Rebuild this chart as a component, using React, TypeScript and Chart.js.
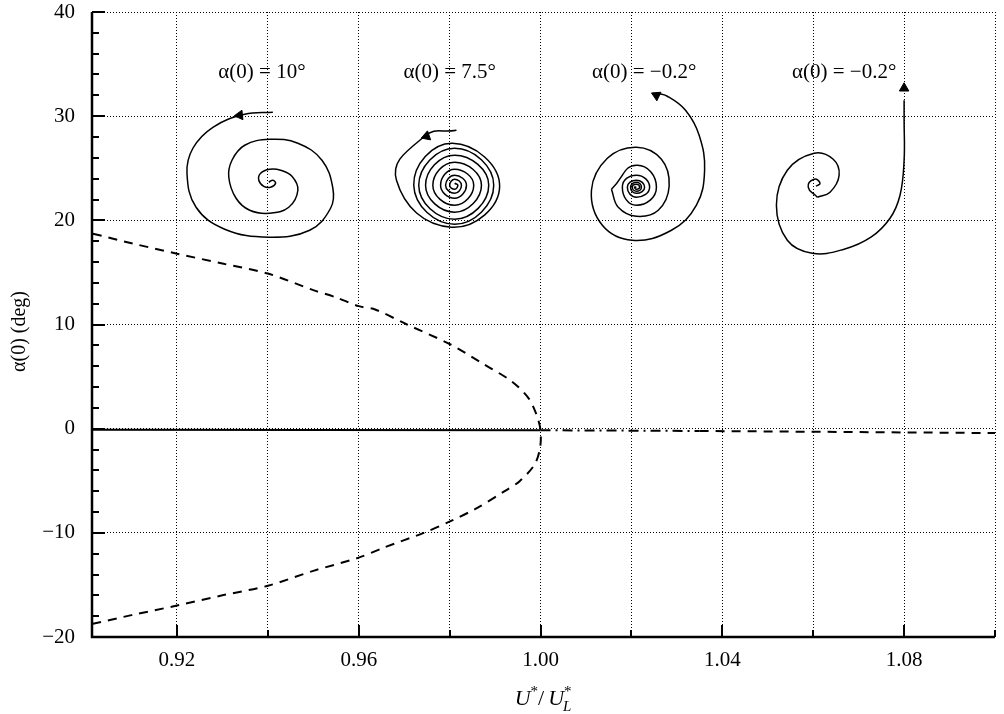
import React, { useEffect, useRef } from 'react';
import { Chart, registerables } from 'chart.js';

Chart.register(...registerables);

const FONT = "'Liberation Serif', 'Times New Roman', serif";

// axis ranges
const X_MIN = 0.9013;
const X_MAX = 1.1;
const Y_MIN = -20;
const Y_MAX = 40;

// tick values
const xGridValues = [0.92, 0.94, 0.96, 0.98, 1.0, 1.02, 1.04, 1.06, 1.08, 1.1];
const xLabelValues = [0.92, 0.96, 1.0, 1.04, 1.08];
const yGridValues = [-20, -10, 0, 10, 20, 30, 40];
const yTickMarks = [-20, -18, -16, -14, -12, -10, -8, -6, -4, -2, 0, 2, 4, 6, 8, 10, 12, 14, 16, 18, 20, 22, 24, 26, 28, 30, 32, 34, 36, 38, 40];

// unstable branches (dashed parabola), upper -> vertex -> lower
const branchX = [0.9015, 0.91, 0.92, 0.93, 0.94, 0.95, 0.955, 0.96, 0.9636, 0.9706, 0.9802, 0.9876, 0.9936, 0.9973, 0.9991, 1.0, 0.9999, 0.9987, 0.9954, 0.9921, 0.9861, 0.9802, 0.9743, 0.9654, 0.96, 0.95, 0.94, 0.93, 0.92, 0.91, 0.9015];
const branchY = [18.72, 17.8, 16.8, 15.85, 14.89, 13.3, 12.6, 11.76, 11.44, 10.0, 8.08, 6.16, 4.56, 2.96, 1.36, -0.15, -1.84, -3.44, -5.04, -6.0, -7.6, -8.88, -10.0, -11.44, -12.38, -13.65, -15.08, -16.0, -16.98, -17.9, -18.73];

// stable equilibrium (solid)
const stableX = [0.9015, 1.0];
const stableY = [-0.1, -0.15];

// post-flutter equilibrium (dash-dot then dashed)
const rightDotX = [1.0, 1.035];
const rightDotY = [-0.15, -0.22];
const rightDashX = [1.035, 1.1];
const rightDashY = [-0.22, -0.42];

// phase-portrait insets
const spiral10X = [0.9411, 0.9349, 0.9279, 0.9235, 0.9222, 0.9242, 0.9305, 0.9402, 0.9492, 0.9538, 0.9543, 0.9519, 0.9466, 0.9404, 0.9349, 0.9321, 0.9314, 0.933, 0.936, 0.9404, 0.9446, 0.9466, 0.9453, 0.9428, 0.9404, 0.9384, 0.938, 0.9391, 0.9406, 0.9417, 0.9411, 0.9402];
const spiral10Y = [30.37, 30.18, 28.93, 26.92, 24.52, 21.26, 19.15, 18.38, 19.05, 21.16, 23.08, 25.77, 27.4, 27.78, 27.21, 25.77, 24.14, 22.12, 20.97, 20.68, 21.26, 22.89, 24.23, 24.81, 24.9, 24.52, 23.85, 23.27, 23.18, 23.56, 23.85, 23.66];

const spiral75X = [0.9815, 0.9745, 0.9683, 0.9804, 0.991, 0.9806, 0.9721, 0.9811, 0.9897, 0.9811, 0.9732, 0.9811, 0.9886, 0.9811, 0.9747, 0.9811, 0.987, 0.9811, 0.9763, 0.9811, 0.9853, 0.9811, 0.978, 0.9811, 0.9837, 0.9811, 0.9791, 0.9811, 0.9826, 0.9811, 0.98, 0.9811, 0.9818, 0.9811];
const spiral75Y = [28.65, 28.07, 23.85, 19.34, 23.27, 27.4, 23.37, 19.63, 23.37, 26.92, 23.37, 20.11, 23.37, 26.25, 23.37, 20.78, 23.37, 25.58, 23.37, 21.45, 23.37, 24.91, 23.37, 22.12, 23.37, 24.33, 23.37, 22.6, 23.37, 23.95, 23.37, 22.99, 23.37, 23.56];

const spiralAInnerX = [1.0211, 1.0207, 1.0211, 1.0218, 1.0211, 1.0202, 1.0211, 1.0222, 1.0211, 1.0198, 1.0211, 1.0229, 1.0211, 1.0191, 1.0211, 1.024, 1.0211, 1.018, 1.0211, 1.0255, 1.0211, 1.0156];
const spiralAInnerY = [23.18, 23.18, 22.99, 23.18, 23.47, 23.18, 22.8, 23.18, 23.66, 23.18, 22.6, 23.18, 23.85, 23.18, 22.22, 23.18, 24.33, 23.18, 21.45, 23.18, 25.29, 22.98];
const spiralAOuterX = [1.0156, 1.0171, 1.0211, 1.0259, 1.0283, 1.0266, 1.0211, 1.0147, 1.0112, 1.0136, 1.0202, 1.0288, 1.0343, 1.0361, 1.0349, 1.0319, 1.0279, 1.0255];
const spiralAOuterY = [22.98, 21.26, 20.39, 20.97, 23.27, 25.86, 27.02, 25.96, 22.89, 19.53, 18.09, 19.05, 21.45, 24.81, 28.17, 30.57, 31.91, 32.2];

const spiralBInnerX = [1.0606, 1.0615, 1.0602, 1.0589, 1.0609];
const spiralBInnerY = [23.27, 23.56, 23.94, 23.18, 22.22];
const spiralBOuterX = [1.0609, 1.0637, 1.0657, 1.0644, 1.0602, 1.0543, 1.0519, 1.0543, 1.0598, 1.0668, 1.0727, 1.0769, 1.0791, 1.08, 1.08, 1.08];
const spiralBOuterY = [22.22, 22.7, 24.33, 25.86, 26.44, 24.81, 21.45, 18.09, 16.84, 17.23, 18.38, 20.2, 22.41, 25.77, 29.61, 31.53];

// arrow heads on trajectories
const arrowX = [0.9338, 0.9749, 1.0255, 1.08];
const arrowY = [30.09, 28.07, 32.0, 32.68];
const arrowRot = [264, 251, 296, 0];

// annotations
const labelText = ['\u03b1(0) = 10\u00b0', '\u03b1(0) = 7.5\u00b0', '\u03b1(0) = \u22120.2\u00b0', '\u03b1(0) = \u22120.2\u00b0'];
const labelX = [0.9387, 0.98, 1.0228, 1.0668];
const labelY = [34.2, 34.2, 34.2, 34.2];

const yTitle = '\u03b1(0) (deg)';

const pts = (xs: number[], ys: number[]) => xs.map((x, i) => ({ x, y: ys[i] }));

const overlayPlugin = {
  id: 'overlay',
  afterDraw(chart: any) {
    const { ctx, chartArea: a, scales } = chart;
    const xs = scales.x;
    const ys = scales.y;
    ctx.save();
    ctx.setLineDash([]);
    ctx.strokeStyle = '#000';
    ctx.fillStyle = '#000';
    // inward tick marks
    ctx.lineWidth = 2;
    yTickMarks.forEach((v) => {
      const py = Math.round(ys.getPixelForValue(v));
      const len = v % 10 === 0 ? 13 : 7;
      ctx.beginPath();
      ctx.moveTo(a.left, py);
      ctx.lineTo(a.left + len, py);
      ctx.stroke();
    });
    xGridValues.forEach((v) => {
      const px = Math.round(xs.getPixelForValue(v));
      const major = xLabelValues.some((t) => Math.abs(t - v) < 1e-6);
      const len = major ? 12 : 7;
      ctx.beginPath();
      ctx.moveTo(px, a.bottom);
      ctx.lineTo(px, a.bottom - len);
      ctx.stroke();
    });
    // solid axes (left and bottom)
    ctx.lineWidth = 2.5;
    ctx.beginPath();
    ctx.moveTo(a.left, a.top);
    ctx.lineTo(a.left, a.bottom);
    ctx.lineTo(a.right, a.bottom);
    ctx.stroke();

    // annotations
    ctx.font = `21px ${FONT}`;
    ctx.textAlign = 'center';
    ctx.textBaseline = 'middle';
    labelText.forEach((t, i) => {
      ctx.fillText(t, xs.getPixelForValue(labelX[i]), ys.getPixelForValue(labelY[i]));
    });

    // y title
    ctx.save();
    ctx.translate(20, (a.top + a.bottom) / 2 + 7);
    ctx.rotate(-Math.PI / 2);
    ctx.font = `20px ${FONT}`;
    ctx.textAlign = 'center';
    ctx.textBaseline = 'middle';
    ctx.fillText(yTitle, 0, 0);
    ctx.restore();

    // x title  U*/U*_L
    const big = `italic 22px ${FONT}`;
    const bigUp = `22px ${FONT}`;
    const small = `15px ${FONT}`;
    const smallIt = `italic 15px ${FONT}`;
    ctx.textAlign = 'left';
    ctx.textBaseline = 'alphabetic';
    const w = (f: string, t: string) => { ctx.font = f; return ctx.measureText(t).width; };
    const wU = w(big, 'U');
    const wS = w(small, '*');
    const wSl = w(bigUp, '/');
    const wSp = 4;
    const wL = w(smallIt, 'L');
    const total = wU + wS + wSl + wSp + wU + Math.max(wS, wL);
    let x = (a.left + a.right) / 2 - total / 2;
    const base = 705;
    ctx.font = big; ctx.fillText('U', x, base); x += wU;
    ctx.font = small; ctx.fillText('*', x, base - 9); x += wS;
    ctx.font = bigUp; ctx.fillText('/', x, base); x += wSl + wSp;
    ctx.font = big; ctx.fillText('U', x, base); x += wU;
    ctx.font = small; ctx.fillText('*', x, base - 9);
    ctx.font = smallIt; ctx.fillText('L', x - 1, base + 6);
    ctx.restore();
  },
};

export default function App() {
  const ref = useRef<HTMLCanvasElement | null>(null);
  useEffect(() => {
    if (!ref.current) return;
    const lineDs = (xs: number[], ys: number[], width: number, dash: number[], tension: number) => ({
      data: pts(xs, ys),
      borderColor: '#000',
      backgroundColor: '#000',
      borderWidth: width,
      borderDash: dash,
      pointRadius: 0,
      tension,
      fill: false,
    });
    const chart = new Chart(ref.current, {
      type: 'line',
      data: {
        datasets: [
          lineDs(branchX, branchY, 2, [9, 7], 0.3),
          lineDs(stableX, stableY, 2, [], 0),
          lineDs(rightDotX, rightDotY, 2, [10, 5, 2, 5], 0),
          lineDs(rightDashX, rightDashY, 2, [9, 7], 0),
          lineDs(spiral10X, spiral10Y, 1.5, [], 0.4),
          lineDs(spiral75X, spiral75Y, 1.5, [], 0.5),
          lineDs(spiralAInnerX, spiralAInnerY, 1.5, [], 0.55),
          lineDs(spiralAOuterX, spiralAOuterY, 1.5, [], 0.4),
          lineDs(spiralBInnerX, spiralBInnerY, 1.5, [], 0.55),
          lineDs(spiralBOuterX, spiralBOuterY, 1.5, [], 0.4),
          {
            data: pts(arrowX, arrowY),
            showLine: false,
            pointStyle: 'triangle',
            pointRadius: 5.5,
            pointRotation: arrowRot,
            pointBackgroundColor: '#000',
            pointBorderColor: '#000',
            borderColor: '#000',
            backgroundColor: '#000',
          } as any,
        ],
      },
      options: {
        responsive: false,
        animation: false,
        devicePixelRatio: 1,
        events: [],
        layout: { padding: { left: 0, right: 9, top: 12, bottom: 0 } },
        plugins: { legend: { display: false }, tooltip: { enabled: false } },
        scales: {
          x: {
            type: 'linear',
            min: X_MIN,
            max: X_MAX,
            afterBuildTicks: (s: any) => { s.ticks = xGridValues.map((value) => ({ value })); },
            afterFit: (s: any) => { s.height = 77; s.paddingLeft = 0; s.paddingRight = 0; },
            ticks: {
              autoSkip: false,
              maxRotation: 0,
              padding: 11,
              color: '#000',
              font: { family: FONT, size: 21 },
              callback: (v: any) => (xLabelValues.some((t) => Math.abs(t - Number(v)) < 1e-6) ? Number(v).toFixed(2) : ''),
            },
            grid: { color: '#000', lineWidth: 1, drawTicks: false },
            border: { display: false, dash: [1, 2] },
          },
          y: {
            type: 'linear',
            min: Y_MIN,
            max: Y_MAX,
            afterBuildTicks: (s: any) => { s.ticks = yGridValues.map((value) => ({ value })); },
            afterFit: (s: any) => { s.width = 92; s.paddingTop = 0; s.paddingBottom = 0; },
            ticks: {
              padding: 17,
              color: '#000',
              font: { family: FONT, size: 21 },
              callback: (v: any) => (Number(v) < 0 ? '\u2212' + Math.abs(Number(v)) : String(v)),
            },
            grid: { color: '#000', lineWidth: 1, drawTicks: false },
            border: { display: false, dash: [1, 2] },
          },
        },
      } as any,
      plugins: [overlayPlugin],
    });
    return () => chart.destroy();
  }, []);
  return (
    <div style={{ position: 'fixed', left: 0, top: 0, width: 1004, height: 714, background: '#fff' }}>
      <canvas ref={ref} width={1004} height={714} style={{ display: 'block' }} />
    </div>
  );
}
